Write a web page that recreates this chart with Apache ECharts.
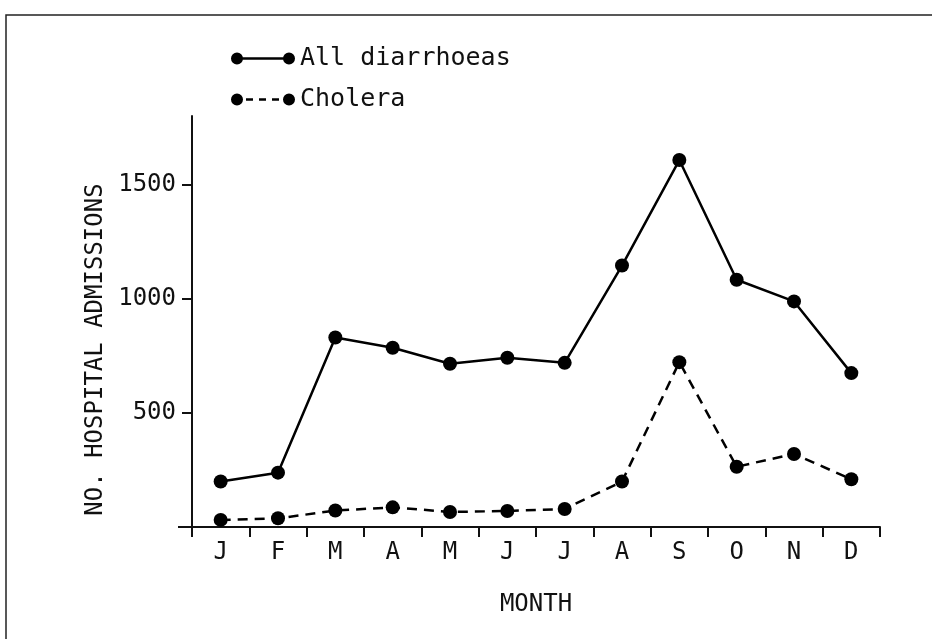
<!DOCTYPE html>
<html>
<head>
<meta charset="utf-8">
<script src="https://cdn.jsdelivr.net/npm/echarts@6/dist/echarts.min.js"></script>
<style type="text/css">
html, body {margin: 0; padding: 0; background: #fff;}
#main {width: 932px; height: 639px;}
</style>
</head>
<body>
<div id="main"></div>
<script>
// monthly hospital admissions
var months = ['J', 'F', 'M', 'A', 'M', 'J', 'J', 'A', 'S', 'O', 'N', 'D'];
var allDiarrhoeas = [199, 238, 830, 785, 715, 741, 719, 1145, 1607, 1083, 988, 674];
var cholera = [31, 38, 72, 86, 66, 70, 79, 199, 722, 264, 320, 209];
var yTicks = [500, 1000, 1500];

var font = '"DejaVu Sans Mono", "Liberation Mono", monospace';

// legend icons: dot - line - dot
var solidIcon = 'path://M0,6A6,6 0 1,1 12,6A6,6 0 1,1 0,6Z M10,4.8L54,4.8L54,7.2L10,7.2Z M52,6A6,6 0 1,1 64,6A6,6 0 1,1 52,6Z';
var dashIcon = 'path://M0,6A6,6 0 1,1 12,6A6,6 0 1,1 0,6Z M15,4.8L22,4.8L22,7.2L15,7.2Z M28,4.8L35,4.8L35,7.2L28,7.2Z M41,4.8L48,4.8L48,7.2L41,7.2Z M52,6A6,6 0 1,1 64,6A6,6 0 1,1 52,6Z';

var myChart = echarts.init(document.getElementById('main'), null, {renderer: 'canvas'});
myChart.setOption({
    animation: false,
    backgroundColor: '#fff',
    textStyle: {fontFamily: font, color: '#111'},
    graphic: [
        {type: 'rect', shape: {x: 6, y: 15, width: 940, height: 640},
         style: {fill: 'none', stroke: '#222', lineWidth: 1.5}, silent: true},
        {type: 'line', shape: {x1: 178, y1: 527, x2: 192, y2: 527},
         style: {stroke: '#111', lineWidth: 2}, silent: true}
    ],
    legend: {
        orient: 'vertical',
        left: 226,
        top: 41,
        itemWidth: 64,
        itemHeight: 12,
        itemGap: 16,
        textStyle: {fontFamily: font, fontSize: 25, color: '#111', padding: [0, 0, 0, 0]},
        data: [
            {name: 'All diarrhoeas', icon: solidIcon},
            {name: 'Cholera', icon: dashIcon}
        ]
    },
    grid: {left: 192, right: 52, top: 116, bottom: 112, containLabel: false},
    xAxis: {
        type: 'category',
        data: months,
        boundaryGap: true,
        name: 'MONTH',
        nameLocation: 'middle',
        nameGap: 66,
        nameTextStyle: {fontFamily: font, fontSize: 24, color: '#111'},
        axisLine: {lineStyle: {color: '#111', width: 2}},
        axisTick: {show: true, interval: 0, length: 10, lineStyle: {color: '#111', width: 2}},
        axisLabel: {fontFamily: font, fontSize: 24, color: '#111', margin: 14, interval: 0},
        splitLine: {show: false}
    },
    yAxis: {
        type: 'value',
        min: 0,
        max: 1800,
        interval: 500,
        name: 'NO. HOSPITAL ADMISSIONS',
        nameLocation: 'middle',
        nameRotate: 90,
        nameGap: 82,
        nameTextStyle: {fontFamily: font, fontSize: 24, color: '#111', padding: [0, 56, 0, 0]},
        axisLine: {show: true, lineStyle: {color: '#111', width: 2}},
        axisTick: {show: true, length: 10, customValues: yTicks, lineStyle: {color: '#111', width: 2}},
        axisLabel: {fontFamily: font, fontSize: 24, color: '#111', margin: 16, customValues: yTicks,
            formatter: function (v) { return String(v); }},
        splitLine: {show: false}
    },
    series: [
        {
            name: 'All diarrhoeas',
            type: 'line',
            data: allDiarrhoeas,
            symbol: 'circle',
            symbolSize: 14,
            itemStyle: {color: '#000'},
            lineStyle: {color: '#000', width: 2.5}
        },
        {
            name: 'Cholera',
            type: 'line',
            data: cholera,
            symbol: 'circle',
            symbolSize: 14,
            itemStyle: {color: '#000'},
            lineStyle: {color: '#000', width: 2.5, type: [10, 7]}
        }
    ]
});
</script>
</body>
</html>
